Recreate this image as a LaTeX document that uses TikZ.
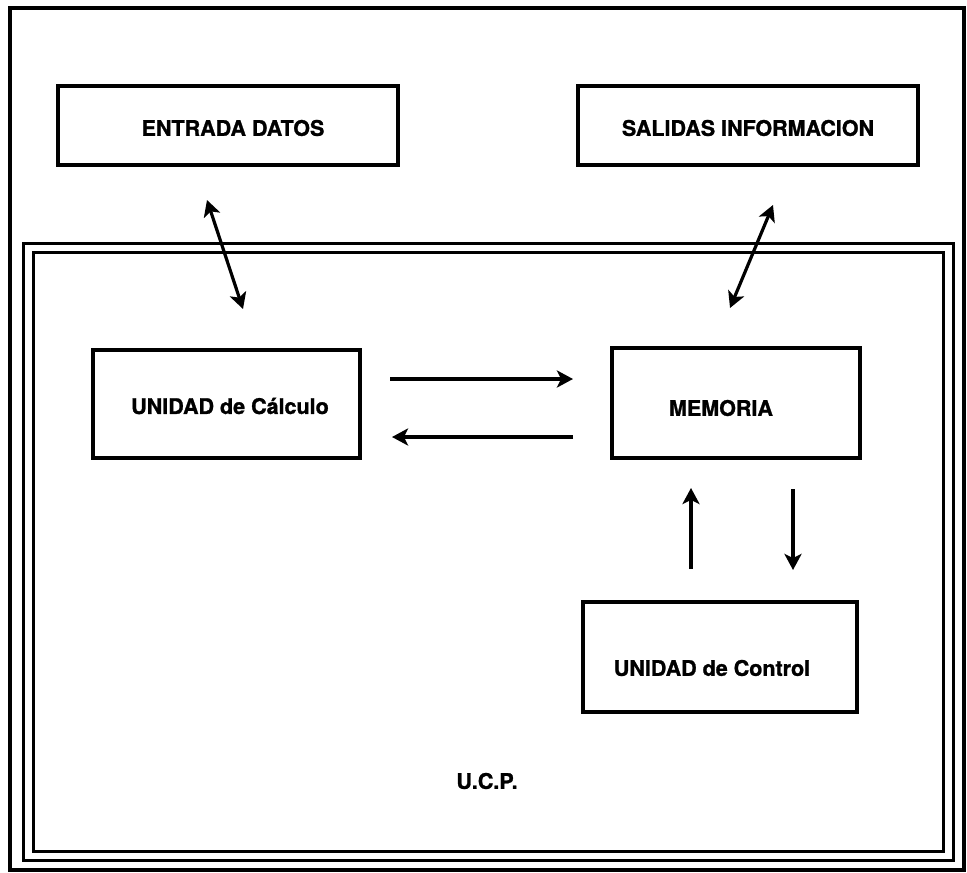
\documentclass[tikz,border=0pt]{standalone}
\usepackage{fontspec}
\setmainfont{TeX Gyre Heros}[BoldFeatures={FakeBold=1.2}]
\usetikzlibrary{positioning}
\usetikzlibrary{arrows.meta}
\tikzset{caja/.style={draw,line width=3.4pt,inner sep=0pt}}
\tikzset{rotulo/.style={font=\fontsize{21.5}{25}\selectfont\bfseries,inner sep=0pt}}
\tikzset{punta/.style={-{Stealth[length=16pt,width=17pt,inset=4pt]}}}
\tikzset{flecha/.style={line width=3.2pt,punta}}
\tikzset{dobleflecha/.style={line width=3.2pt,{Stealth[length=16pt,width=17pt,inset=4pt]}-{Stealth[length=16pt,width=17pt,inset=4pt]}}}
\tikzset{marco/.style={line width=3pt}}

\begin{document}
\begin{tikzpicture}[x=1pt,y=-1pt]
                \useasboundingbox (0,0) rectangle (967,873);
                % marcos
                \draw[marco,line width=3.6pt] (10,8) rectangle (964,870);
                \draw[marco] (23,243) rectangle (953,860);
                \draw[marco] (33,252) rectangle (943,851);
                % cajas
                \node[caja,minimum width=340pt,minimum height=79pt] (entrada) at (228,125.5) {};
                \node[rotulo] (tentrada) at (233,128) {ENTRADA DATOS};
                \node[caja,minimum width=340pt,minimum height=79pt] (salidas) at (748,125.5) {};
                \node[rotulo] (tsalidas) at (748,128) {SALIDAS INFORMACION};
                \node[caja,minimum width=267pt,minimum height=108pt] (calculo) at (226.5,404) {};
                \node[rotulo] (tcalculo) at (230,406) {UNIDAD de Cálculo};
                \node[caja,minimum width=248pt,minimum height=110pt] (memoria) at (736,403) {};
                \node[rotulo] (tmemoria) at (721,408) {MEMORIA};
                \node[caja,minimum width=274pt,minimum height=110pt] (control) at (720,657) {};
                \node[rotulo] (tcontrol) at (712,668) {UNIDAD de Control};
                \node[rotulo] (ucp) at (487,781) {U.C.P.};
                % flechas
                \coordinate (e1) at (207,200);
                \coordinate (e2) at (243,309);
                    \path[draw,dobleflecha] (e1) -- (e2);
                \coordinate (s1) at (773,205);
                \coordinate (s2) at (730,308);
                    \path[draw,dobleflecha] (s1) -- (s2);
                \coordinate (c1) at (390,379);
                \coordinate (m1) at (573,379);
                    \path[draw,flecha] (c1) -- (m1);
                \coordinate (m2) at (573,437);
                \coordinate (c2) at (392,437);
                    \path[draw,flecha] (m2) -- (c2);
                \coordinate (u1) at (691,569);
                \coordinate (u2) at (691,488);
                    \path[draw,flecha] (u1) -- (u2);
                \coordinate (d1) at (793,489);
                \coordinate (d2) at (793,570);
                    \path[draw,flecha] (d1) -- (d2);
            \end{tikzpicture}
\end{document}
